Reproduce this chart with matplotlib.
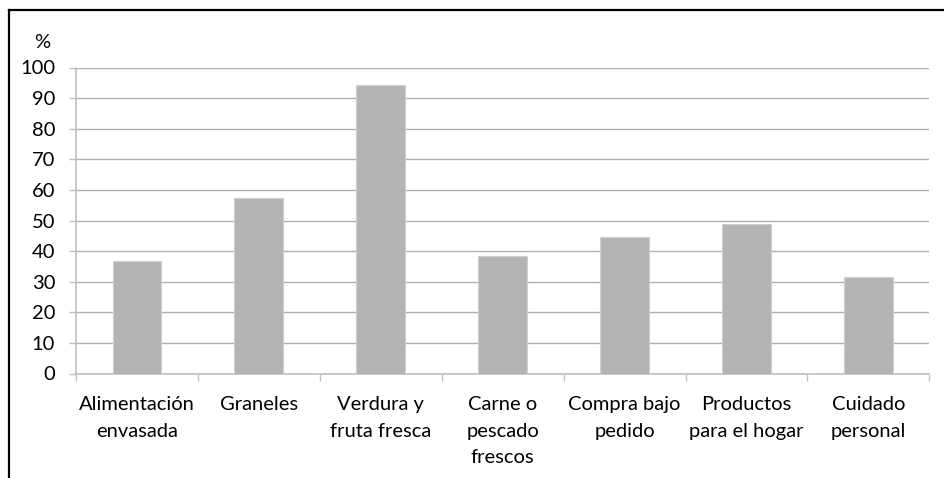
import matplotlib
matplotlib.use("Agg")
import matplotlib.pyplot as plt
from matplotlib.lines import Line2D
import numpy as np

categories = ["Alimentación\nenvasada", "Graneles", "Verdura y\nfruta fresca",
              "Carne o\npescado\nfrescos", "Compra bajo\npedido",
              "Productos\npara el hogar", "Cuidado\npersonal"]
values = [36.7, 57.3, 94.3, 38.3, 44.6, 48.9, 31.5]
yticks = list(range(0, 101, 10))

plt.rcParams['font.family'] = ['Lato', 'DejaVu Sans']

W, H = 944, 478
FS = 14.5
fig = plt.figure(figsize=(W / 100, H / 100), dpi=100)
ax = fig.add_axes([76 / W, 1 - 373.5 / H, (929.3 - 76) / W, (373.5 - 67.5) / H])

x = np.arange(len(categories))
ax.bar(x, values, width=0.4, color="#b4b4b4", edgecolor="#cfcfcf", linewidth=0.8, zorder=3)

ax.set_xlim(-0.5, len(categories) - 0.5)
ax.set_ylim(0, 100)
ax.set_yticks(yticks)
ax.set_yticklabels([str(v) for v in yticks])
ax.yaxis.grid(True, color="#b0b0b0", linewidth=1.0, zorder=0)
ax.set_axisbelow(True)

ax.set_xticks(x)
ax.set_xticklabels(categories, linespacing=1.7)
ax.set_xticks(np.arange(-0.5, len(categories), 1.0), minor=True)
ax.tick_params(axis="x", which="major", length=0, pad=16, labelsize=FS, colors="black")
ax.tick_params(axis="x", which="minor", length=5, width=1, color="#c0c0c0")
ax.tick_params(axis="y", length=5, width=1, color="#c0c0c0", pad=10, labelsize=FS)

for s in ["top", "right"]:
    ax.spines[s].set_visible(False)
for s in ["left", "bottom"]:
    ax.spines[s].set_color("#c0c0c0")
    ax.spines[s].set_linewidth(1.2)

fig.text(42 / W, 1 - 43 / H, "%", ha="center", va="center", fontsize=FS)

# outer frame (top and left)
fig.add_artist(Line2D([8.5 / W, 1.0], [1 - 9.5 / H, 1 - 9.5 / H], color="black", linewidth=1.6))
fig.add_artist(Line2D([8.5 / W, 8.5 / W], [1 - 9.5 / H, 0.0], color="black", linewidth=1.6))

fig.savefig("out.png", dpi=100)
